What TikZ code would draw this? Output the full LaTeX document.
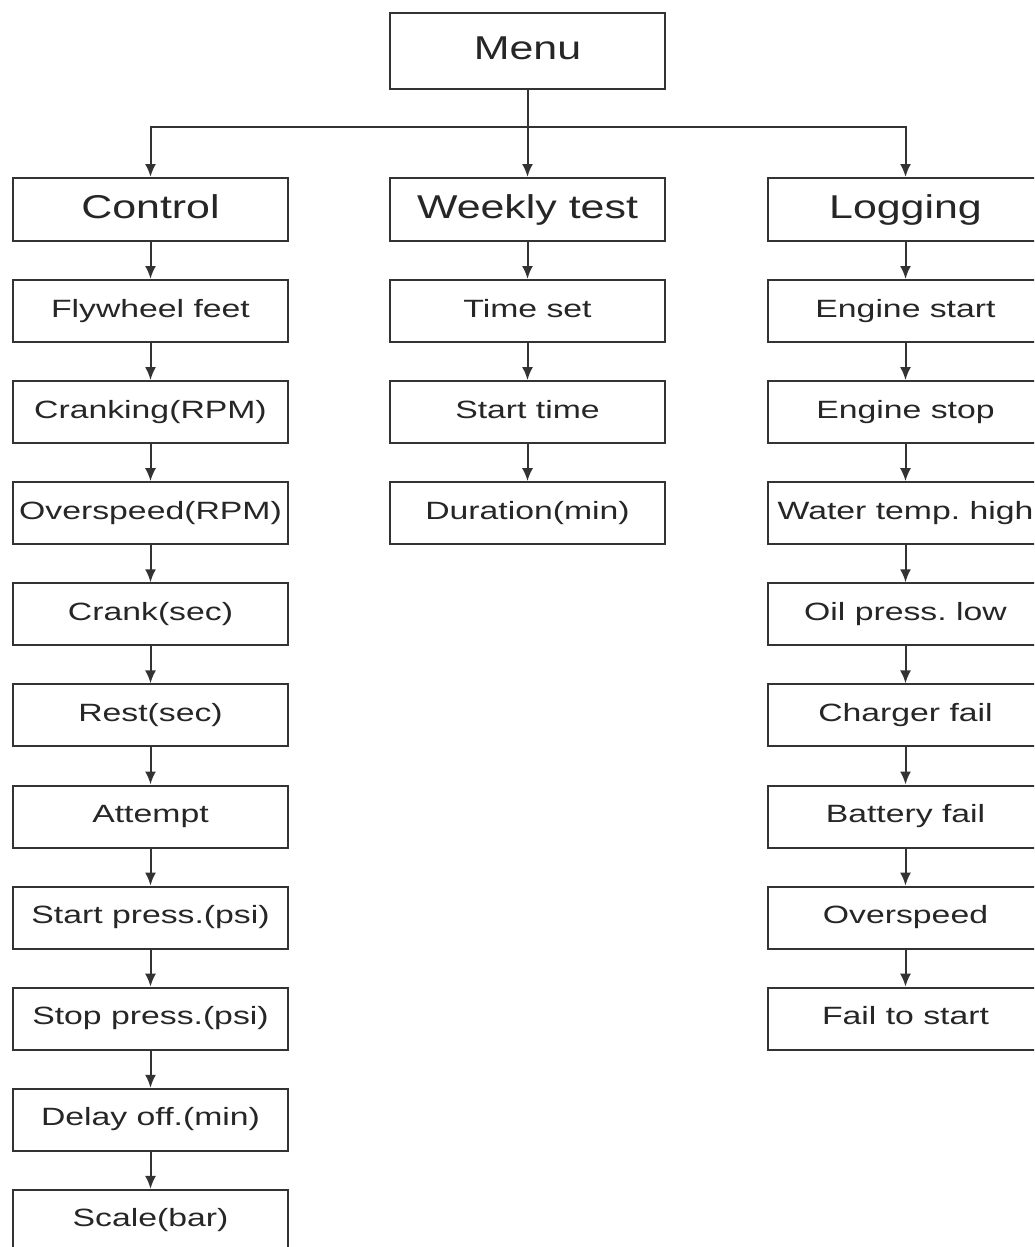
\documentclass[tikz,border=0pt]{standalone}
\usepackage{fontspec}
\setmainfont{Liberation Sans}
\newfontfamily\widefont[FakeStretch=1.35]{Liberation Sans}
\newfontfamily\widebigfont[FakeStretch=1.3]{Liberation Sans}
\usetikzlibrary{arrows.meta}
\frenchspacing
\begin{document}
\begin{tikzpicture}[x=1pt,y=-1pt,
  box/.style={draw=black!80, line width=2pt, minimum width=275pt, inner sep=0pt, text=black!85, anchor=center},
  big/.style={box, minimum height=63pt, font=\widebigfont\fontsize{33}{40}\selectfont, text height=24pt, text depth=6.4pt},
  small/.style={box, minimum height=62pt, font=\widefont\fontsize{25}{30}\selectfont, text height=18pt, text depth=6pt},
  arr/.style={draw=black!80, line width=2pt, -{Latex[length=13pt,width=11pt]}}]
\useasboundingbox (0,0) rectangle (1034,1247);
\clip (0,0) rectangle (1034,1247);
\fill[white] (0,0) rectangle (1034,1247);
% top
\node[big, minimum height=76pt] (menu) at (527.5,51) {Menu};
\node[big] (control) at (150.5,209.5) {Control};
\node[big] (weekly) at (527.5,209.5) {Weekly test};
\node[big] (logging) at (905.5,209.5) {Logging};
\draw[arr] (menu.south) -- (weekly.north);
\draw[arr] (menu.south) -- ++(0,37) -| (control.north);
\draw[arr] (menu.south) -- ++(0,37) -| (logging.north);
% control column
\node[small] (c1) at (150.5,311) {Flywheel feet};
\node[small] (c2) at (150.5,412.1) {Cranking(RPM)};
\node[small] (c3) at (150.5,513.2) {Overspeed(RPM)};
\node[small] (c4) at (150.5,614.3) {Crank(sec)};
\node[small] (c5) at (150.5,715.4) {Rest(sec)};
\node[small] (c6) at (150.5,816.5) {Attempt};
\node[small] (c7) at (150.5,917.6) {Start press.(psi)};
\node[small] (c8) at (150.5,1018.7) {Stop press.(psi)};
\node[small] (c9) at (150.5,1119.8) {Delay off.(min)};
\node[small] (c10) at (150.5,1220.9) {Scale(bar)};
\draw[arr] (control) -- (c1);
\draw[arr] (c1) -- (c2);
\draw[arr] (c2) -- (c3);
\draw[arr] (c3) -- (c4);
\draw[arr] (c4) -- (c5);
\draw[arr] (c5) -- (c6);
\draw[arr] (c6) -- (c7);
\draw[arr] (c7) -- (c8);
\draw[arr] (c8) -- (c9);
\draw[arr] (c9) -- (c10);
% weekly column
\node[small] (w1) at (527.5,311) {Time set};
\node[small] (w2) at (527.5,412.1) {Start time};
\node[small] (w3) at (527.5,513.2) {Duration(min)};
\draw[arr] (weekly) -- (w1);
\draw[arr] (w1) -- (w2);
\draw[arr] (w2) -- (w3);
% logging column
\node[small] (l1) at (905.5,311) {Engine start};
\node[small] (l2) at (905.5,412.1) {Engine stop};
\node[small] (l3) at (905.5,513.2) {Water temp. high};
\node[small] (l4) at (905.5,614.3) {Oil press. low};
\node[small] (l5) at (905.5,715.4) {Charger fail};
\node[small] (l6) at (905.5,816.5) {Battery fail};
\node[small] (l7) at (905.5,917.6) {Overspeed};
\node[small] (l8) at (905.5,1018.7) {Fail to start};
\draw[arr] (logging) -- (l1);
\draw[arr] (l1) -- (l2);
\draw[arr] (l2) -- (l3);
\draw[arr] (l3) -- (l4);
\draw[arr] (l4) -- (l5);
\draw[arr] (l5) -- (l6);
\draw[arr] (l6) -- (l7);
\draw[arr] (l7) -- (l8);
\end{tikzpicture}
\end{document}
